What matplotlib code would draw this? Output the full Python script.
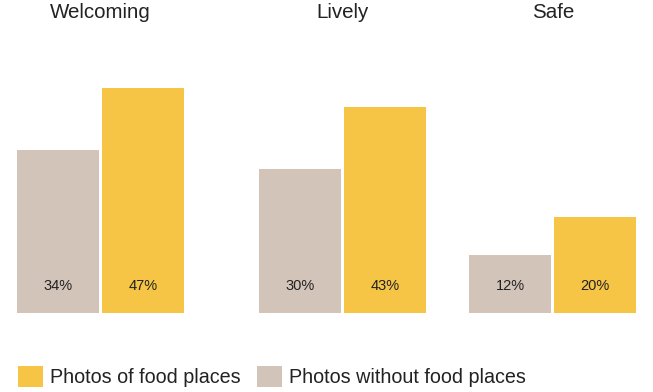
import matplotlib.pyplot as plt
import matplotlib.transforms as mtransforms
from matplotlib.patches import Patch

plt.rcParams['font.family'] = ['Liberation Sans', 'DejaVu Sans']

groups = ['Welcoming', 'Lively', 'Safe']
without_food = [34, 30, 12]
with_food = [47, 43, 20]

gray = '#D3C4BA'
yellow = '#F6C546'
text_color = '#222222'

# group centres in bar-slot units (groups are not evenly spaced)
group_x = [0, 2.85, 5.32]
slot = 1.0
bar_w = 0.965

fig = plt.figure(figsize=(6.53, 3.92), dpi=100)
ax = fig.add_axes([0, 0.2015, 1, 0.645])
title_trans = mtransforms.blended_transform_factory(ax.transData, fig.transFigure)

for i, g in enumerate(groups):
    x0 = group_x[i] - slot / 2
    x1 = group_x[i] + slot / 2
    ax.bar(x0, without_food[i], width=bar_w, color=gray, edgecolor='none')
    ax.bar(x1, with_food[i], width=bar_w, color=yellow, edgecolor='none')
    ax.text(x0, 5.6, f'{without_food[i]}%', ha='center', va='center',
            fontsize=10.5, color=text_color)
    ax.text(x1, 5.6, f'{with_food[i]}%', ha='center', va='center',
            fontsize=10.5, color=text_color)
    # group title centred above the pair, near the top of the figure
    ax.text(group_x[i], 1 - 12 / 392, g, ha='center', va='center',
            fontsize=14.8, color=text_color, transform=title_trans)

ax.set_xlim(-1.182, 6.50)
ax.set_ylim(0, 52.7)
ax.axis('off')

handles = [Patch(facecolor=yellow, label='Photos of food places'),
           Patch(facecolor=gray, label='Photos without food places')]
fig.legend(handles=handles, loc='lower left', bbox_to_anchor=(0.0, -0.033),
           ncol=2, frameon=False, fontsize=14.2, handlelength=1.3,
           handleheight=1.3, handletextpad=0.35, columnspacing=0.8,
           labelcolor=text_color)

fig.savefig('out.png', dpi=100)
